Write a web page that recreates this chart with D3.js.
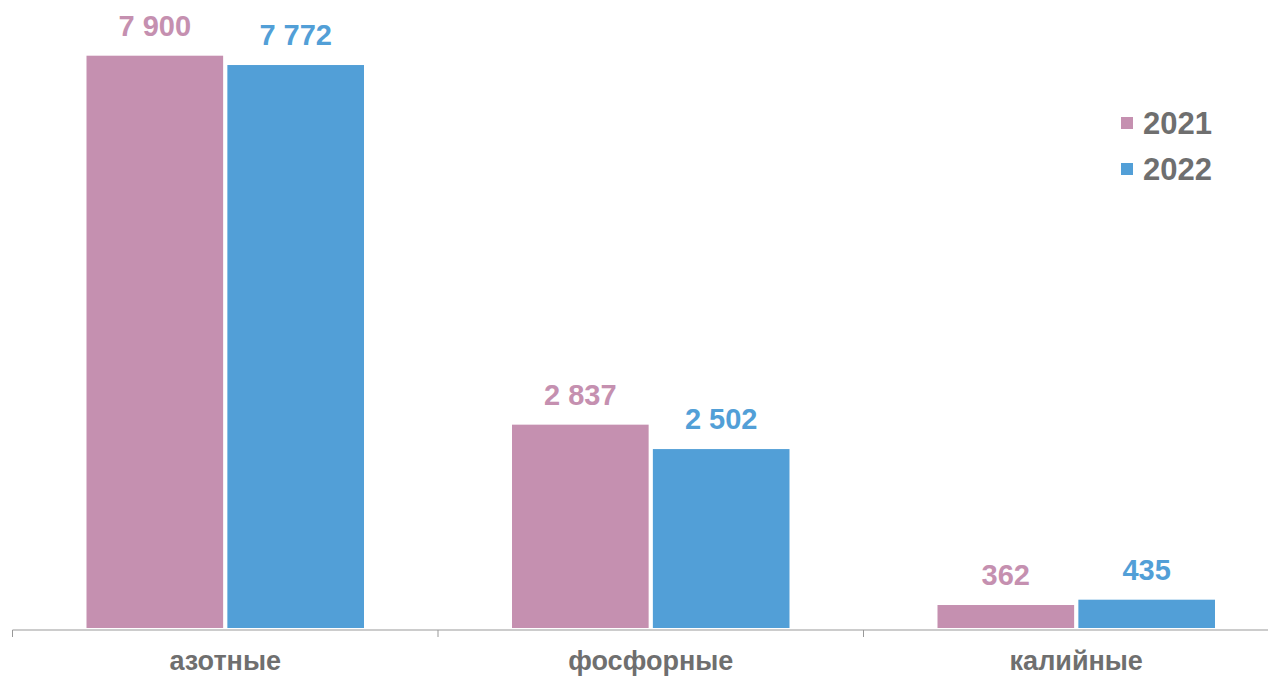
<!DOCTYPE html>
<html>
<head>
<meta charset="utf-8">
<script src="https://cdn.jsdelivr.net/npm/d3@7"></script>
<style>
  body { margin: 0; background: #fff; }
  svg { display: block; font-family: "Liberation Sans", Arial, sans-serif; }
</style>
</head>
<body>
<div id="chart"></div>
<script>
// data
const categories = ["азотные", "фосфорные", "калийные"];
const years = ["2021", "2022"];
const values2021 = [7900, 2837, 362];
const values2022 = [7772, 2502, 435];

const colors = {"2021": "#c590b0", "2022": "#529fd7"};
const grey = "#6f6f6f";

const width = 1268, height = 677;

const svg = d3.select("#chart").append("svg")
    .attr("width", width)
    .attr("height", height);

const rows = categories.map((c, i) => ({cat: c, vals: [
  {year: "2021", value: values2021[i]},
  {year: "2022", value: values2022[i]}
]}));

const x = d3.scaleBand().domain(categories).range([12.5, 1289]).padding(0);
const x1 = d3.scaleBand().domain(years)
    .range([74, x.bandwidth() - 74])
    .paddingInner(0.03);
const y = d3.scaleLinear().domain([0, 7900]).range([631.4, 55.7]);

const fmt = d3.formatLocale({decimal: ",", thousands: " ", grouping: [3], currency: ["", ""]}).format(",d");

// bars
const groups = svg.append("g")
  .selectAll("g")
  .data(rows)
  .join("g")
    .attr("transform", d => `translate(${x(d.cat)},0)`);

groups.selectAll("rect")
  .data(d => d.vals)
  .join("rect")
    .attr("x", d => x1(d.year))
    .attr("width", x1.bandwidth())
    .attr("y", d => y(d.value))
    .attr("height", d => 628 - y(d.value))
    .attr("fill", d => colors[d.year]);

groups.selectAll("text")
  .data(d => d.vals)
  .join("text")
    .attr("x", d => x1(d.year) + x1.bandwidth() / 2)
    .attr("y", d => y(d.value) - 20)
    .attr("text-anchor", "middle")
    .attr("font-size", 29)
    .attr("font-weight", "bold")
    .attr("fill", d => colors[d.year])
    .text(d => fmt(d.value));

// axis
const axisY = 630;
const axis = svg.append("g").attr("transform", `translate(0,${axisY})`);
axis.append("line")
    .attr("x1", 12.5).attr("x2", width)
    .attr("stroke", "#999").attr("stroke-width", 1);
axis.selectAll(".tick")
  .data(categories)
  .join("line")
    .attr("class", "tick")
    .attr("x1", d => x(d)).attr("x2", d => x(d))
    .attr("y1", 0).attr("y2", 7)
    .attr("stroke", "#999");
axis.selectAll(".lbl")
  .data(categories)
  .join("text")
    .attr("class", "lbl")
    .attr("x", d => x(d) + x.bandwidth() / 2)
    .attr("y", 40)
    .attr("text-anchor", "middle")
    .attr("font-size", 27)
    .attr("font-weight", "bold")
    .attr("fill", grey)
    .text(d => d);

// legend
const legend = svg.append("g").attr("transform", "translate(1121,117)");
const li = legend.selectAll("g")
  .data(years)
  .join("g")
    .attr("transform", (d, i) => `translate(0,${i * 46})`);
li.append("rect")
    .attr("width", 12).attr("height", 12)
    .attr("fill", d => colors[d]);
li.append("text")
    .attr("x", 22).attr("y", 17)
    .attr("font-size", 31)
    .attr("font-weight", "bold")
    .attr("fill", grey)
    .text(d => d);
</script>
</body>
</html>
